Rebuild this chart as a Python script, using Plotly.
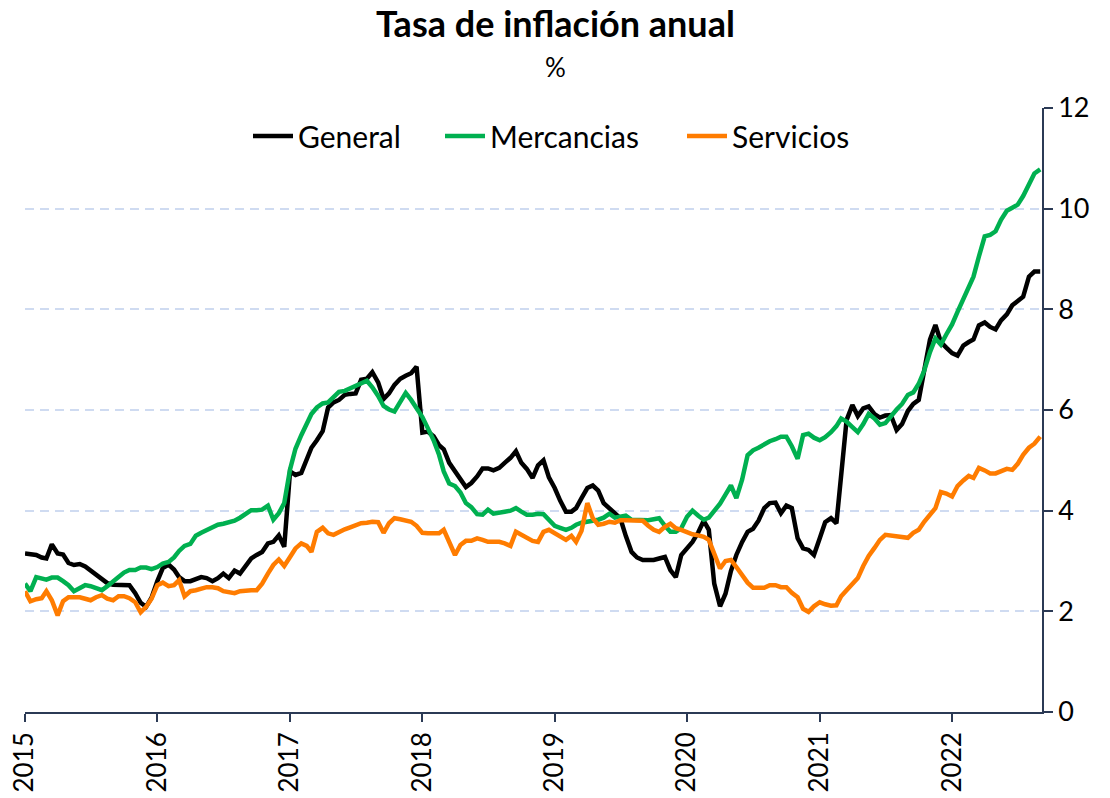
import plotly.graph_objects as go

# Biweekly periods: 1st half Jan 2015 ... 1st half Sep 2022
n_periods = 185
periods = []
for k in range(n_periods):
    yr = 2015 + (k // 2) // 12
    mo = (k // 2) % 12 + 1
    dy = 1 if k % 2 == 0 else 16
    periods.append(f"{yr}-{mo:02d}-{dy:02d}")

year_ticks = ["2015-01-01", "2016-01-01", "2017-01-01", "2018-01-01",
              "2019-01-01", "2020-01-01", "2021-01-01", "2022-01-01"]
year_labels = ["2015", "2016", "2017", "2018", "2019", "2020", "2021", "2022"]

general = [
    3.15, 3.14, 3.12, 3.07, 3.05, 3.33, 3.15, 3.13, 2.96, 2.92, 2.94, 2.89, 2.81, 2.75, 2.66, 2.56, 2.53, 2.53, 2.53, 2.52, 2.36, 2.17, 2.09, 2.27,
    2.60, 2.86, 2.93, 2.83, 2.68, 2.60, 2.60, 2.63, 2.68, 2.66, 2.60, 2.66, 2.75, 2.66, 2.81, 2.75, 2.92, 3.05, 3.12, 3.18, 3.35, 3.38, 3.51, 3.28,
    4.78, 4.71, 4.75, 5.00, 5.25, 5.40, 5.58, 6.05, 6.15, 6.20, 6.30, 6.32, 6.33, 6.60, 6.62, 6.75, 6.55, 6.22, 6.33, 6.50, 6.62, 6.68, 6.73, 6.86,
    5.55, 5.57, 5.48, 5.30, 5.22, 4.95, 4.78, 4.60, 4.47, 4.55, 4.68, 4.84, 4.84, 4.80, 4.85, 4.95, 5.05, 5.18, 4.95, 4.83, 4.65, 4.90, 5.00, 4.66,
    4.45, 4.20, 3.98, 3.98, 4.05, 4.25, 4.45, 4.50, 4.40, 4.15, 4.04, 3.95, 3.85, 3.50, 3.18, 3.07, 3.02, 3.02, 3.02, 3.05, 3.08, 2.82, 2.68, 3.12,
    3.25, 3.38, 3.57, 3.80, 3.62, 2.55, 2.10, 2.35, 2.80, 3.12, 3.38, 3.58, 3.64, 3.80, 4.05, 4.15, 4.16, 3.95, 4.10, 4.05, 3.45, 3.25, 3.22, 3.12,
    3.45, 3.77, 3.85, 3.75, 4.70, 5.80, 6.10, 5.88, 6.03, 6.07, 5.92, 5.85, 5.89, 5.90, 5.60, 5.72, 5.98, 6.12, 6.20, 6.78, 7.40, 7.69, 7.35, 7.24,
    7.13, 7.08, 7.28, 7.35, 7.40, 7.68, 7.74, 7.65, 7.60, 7.78, 7.90, 8.08, 8.18, 8.25, 8.65, 8.75, 8.75,
]

mercancias = [
    2.55, 2.40, 2.68, 2.65, 2.63, 2.67, 2.67, 2.60, 2.52, 2.40, 2.47, 2.52, 2.50, 2.45, 2.42, 2.50, 2.58, 2.68, 2.77, 2.82, 2.82, 2.87, 2.87, 2.84,
    2.88, 2.95, 2.98, 3.07, 3.20, 3.30, 3.34, 3.50, 3.56, 3.61, 3.67, 3.72, 3.74, 3.77, 3.80, 3.86, 3.95, 4.01, 4.01, 4.02, 4.10, 3.82, 3.95, 4.15,
    4.82, 5.23, 5.50, 5.72, 5.92, 6.05, 6.13, 6.15, 6.27, 6.36, 6.38, 6.43, 6.46, 6.52, 6.58, 6.45, 6.28, 6.08, 6.01, 5.97, 6.15, 6.34, 6.20, 6.05,
    5.86, 5.64, 5.40, 5.11, 4.78, 4.54, 4.49, 4.36, 4.15, 4.07, 3.93, 3.92, 4.02, 3.94, 3.95, 3.98, 4.00, 4.05, 3.98, 3.92, 3.92, 3.94, 3.93, 3.82,
    3.70, 3.66, 3.62, 3.66, 3.72, 3.76, 3.78, 3.80, 3.82, 3.86, 3.94, 3.86, 3.88, 3.90, 3.82, 3.81, 3.81, 3.81, 3.83, 3.85, 3.70, 3.58, 3.58, 3.65,
    3.88, 4.00, 3.90, 3.82, 3.86, 3.98, 4.14, 4.32, 4.50, 4.25, 4.62, 5.10, 5.20, 5.25, 5.33, 5.38, 5.42, 5.47, 5.47, 5.28, 5.03, 5.50, 5.53, 5.45,
    5.40, 5.46, 5.56, 5.68, 5.83, 5.77, 5.66, 5.56, 5.72, 5.92, 5.83, 5.71, 5.74, 5.88, 6.01, 6.12, 6.30, 6.35, 6.52, 6.78, 7.15, 7.42, 7.30, 7.50,
    7.70, 7.95, 8.22, 8.47, 8.65, 9.05, 9.45, 9.48, 9.55, 9.78, 9.96, 10.02, 10.08, 10.25, 10.47, 10.70, 10.78,
]

servicios = [
    2.40, 2.20, 2.24, 2.26, 2.40, 2.22, 1.92, 2.20, 2.28, 2.29, 2.28, 2.25, 2.22, 2.28, 2.32, 2.25, 2.22, 2.30, 2.30, 2.26, 2.18, 1.98, 2.09, 2.25,
    2.52, 2.57, 2.50, 2.52, 2.62, 2.30, 2.40, 2.42, 2.46, 2.48, 2.48, 2.46, 2.40, 2.38, 2.36, 2.40, 2.42, 2.42, 2.42, 2.55, 2.75, 2.92, 3.03, 2.90,
    3.08, 3.25, 3.35, 3.30, 3.18, 3.58, 3.66, 3.55, 3.52, 3.58, 3.63, 3.67, 3.72, 3.75, 3.76, 3.78, 3.77, 3.56, 3.75, 3.85, 3.83, 3.80, 3.78, 3.70,
    3.56, 3.55, 3.55, 3.55, 3.62, 3.40, 3.12, 3.32, 3.40, 3.40, 3.45, 3.42, 3.38, 3.38, 3.38, 3.35, 3.30, 3.58, 3.52, 3.45, 3.40, 3.38, 3.58, 3.62,
    3.55, 3.49, 3.42, 3.50, 3.38, 3.60, 4.15, 3.85, 3.72, 3.74, 3.78, 3.76, 3.81, 3.81, 3.81, 3.81, 3.80, 3.70, 3.62, 3.58, 3.68, 3.74, 3.65, 3.62,
    3.57, 3.53, 3.51, 3.48, 3.42, 3.12, 2.85, 3.00, 3.02, 2.88, 2.73, 2.57, 2.47, 2.47, 2.47, 2.52, 2.52, 2.48, 2.48, 2.37, 2.28, 2.05, 1.99, 2.10,
    2.18, 2.14, 2.11, 2.12, 2.30, 2.42, 2.53, 2.66, 2.90, 3.10, 3.26, 3.42, 3.52, 3.51, 3.49, 3.47, 3.46, 3.56, 3.62, 3.78, 3.93, 4.05, 4.37, 4.34,
    4.28, 4.49, 4.60, 4.69, 4.65, 4.85, 4.80, 4.74, 4.74, 4.79, 4.83, 4.81, 4.93, 5.11, 5.25, 5.33, 5.47,
]

series = [("General", general, "#000000"),
          ("Mercancias", mercancias, "#00B050"),
          ("Servicios", servicios, "#FF7C00")]

FONT = "Lato"
AXIS_COLOR = "#2B3A55"

W, H = 1110, 798
ML, MR, MT, MB = 25, 68, 108, 86
plot_w = W - ML - MR
plot_h = H - MT - MB

# left pixel of each legend entry (one legend per series)
legend_left_px = [248, 440, 682]
legend_ids = ["legend", "legend2", "legend3"]

fig = go.Figure()
for (name, vals, color), lid in zip(series, legend_ids):
    fig.add_trace(go.Scatter(x=periods, y=vals, name=name, mode="lines",
                             line=dict(color=color, width=4.5), legend=lid))

legend_y = 1 - (136 - MT) / plot_h
legend_kw = {}
for lid, px in zip(legend_ids, legend_left_px):
    legend_kw[lid] = dict(orientation="h", x=(px - ML) / plot_w, xanchor="left",
                          y=legend_y, yanchor="middle",
                          font=dict(size=30, family=FONT), bgcolor="rgba(0,0,0,0)",
                          itemwidth=40)

fig.update_layout(
    width=W, height=H,
    margin=dict(l=ML, r=MR, t=MT, b=MB, autoexpand=False),
    paper_bgcolor="white", plot_bgcolor="white",
    font=dict(family=FONT, color="#000000"),
    showlegend=True,
    annotations=[
        dict(text="<b>Tasa de inflación anual</b>", x=(555 - ML) / plot_w, xref="paper",
             y=1 + (MT - 23) / plot_h, yref="paper", yanchor="middle",
             showarrow=False, font=dict(size=36, family=FONT)),
        dict(text="%", x=(555 - ML) / plot_w, xref="paper",
             y=1 + (MT - 67) / plot_h, yref="paper", yanchor="middle",
             showarrow=False, font=dict(size=26, family=FONT)),
    ],
    **legend_kw,
)

fig.update_xaxes(
    type="date", range=["2015-01-01", "2022-09-06"],
    tickmode="array", tickvals=year_ticks, ticktext=year_labels,
    tickangle=-90, tickfont=dict(size=26, family=FONT, color="#000000"),
    ticks="outside", ticklen=8, tickwidth=1.5, tickcolor=AXIS_COLOR,
    showline=True, linecolor=AXIS_COLOR, linewidth=1.5,
    showgrid=False, zeroline=False, automargin=False,
)
fig.update_yaxes(
    side="right", range=[0, 12], tickmode="linear", tick0=0, dtick=2,
    tickfont=dict(size=27, family=FONT, color="#000000"),
    ticks="outside", ticklen=9, tickwidth=1.5, tickcolor=AXIS_COLOR,
    showline=True, linecolor=AXIS_COLOR, linewidth=1.5,
    showgrid=True, gridcolor="#CFDBF1", griddash="9px,6px", gridwidth=2,
    zeroline=False, automargin=False,
)

fig.write_html("out.html", config={"displayModeBar": False},
               post_script="document.body.style.margin='0';document.body.style.overflow='hidden';")
